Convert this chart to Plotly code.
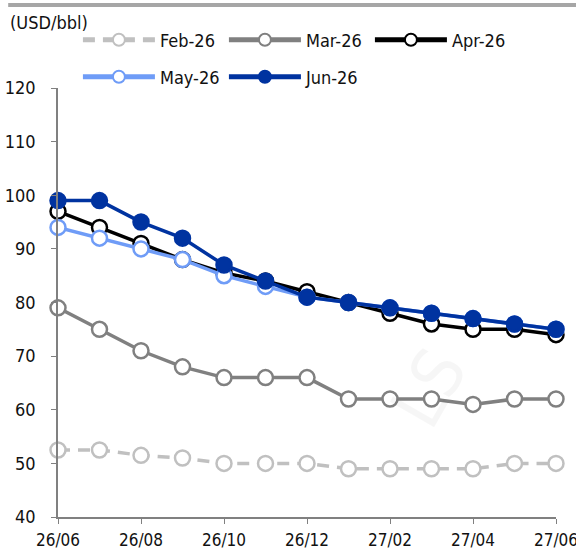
import plotly.graph_objects as go

# contract months on the x axis
months = ['26/06', '26/07', '26/08', '26/09', '26/10', '26/11', '26/12',
          '27/01', '27/02', '27/03', '27/04', '27/05', '27/06']
tick_months = ['26/06', '26/08', '26/10', '26/12', '27/02', '27/04', '27/06']

# forward curves by survey month (USD/bbl)
feb26 = [52.5, 52.5, 51.5, 51, 50, 50, 50, 49, 49, 49, 49, 50, 50]
mar26 = [79, 75, 71, 68, 66, 66, 66, 62, 62, 62, 61, 62, 62]
apr26 = [97, 94, 91, 88, 85.5, 84, 82, 80, 78, 76, 75, 75, 74]
may26 = [94, 92, 90, 88, 85, 83, 81, 80, 79, 78, 77, 76, 75]
jun26 = [99, 99, 95, 92, 87, 84, 81, 80, 79, 78, 77, 76, 75]

font_family = "DejaVu Sans Condensed, Liberation Sans Narrow, Arial Narrow, sans-serif"

fig = go.Figure()

def add_line(name, values, color, dash='solid', filled=False, legend='legend'):
    fig.add_trace(go.Scatter(
        x=months, y=values, name=name, mode='lines+markers',
        line=dict(color=color, width=3.5, dash=dash),
        marker=dict(size=15, color=color if filled else 'white',
                    line=dict(color=color, width=2.5)),
        cliponaxis=False, legend=legend,
    ))

add_line('Feb-26', feb26, '#c0c0c0', dash='12px,8px')
add_line('Mar-26', mar26, '#808080')
add_line('Apr-26', apr26, '#000000')
add_line('May-26', may26, '#6f9cf7', legend='legend2')
add_line('Jun-26', jun26, '#0033a0', filled=True, legend='legend2')

legend_style = dict(orientation='h', xref='paper', yref='paper',
                    xanchor='left', yanchor='middle', entrywidth=59,
                    itemwidth=72, itemsizing='constant',
                    font=dict(size=18), bgcolor='rgba(0,0,0,0)')

fig.update_layout(
    width=576, height=554,
    margin=dict(l=58, r=20, t=88, b=37, autoexpand=False),
    plot_bgcolor='white', paper_bgcolor='white',
    font=dict(family=font_family, size=18, color='#111111'),
    showlegend=True,
    legend=dict(legend_style, x=0.04, y=1 + 48 / 429),
    legend2=dict(legend_style, x=0.04, y=1 + 11 / 429),
    xaxis=dict(type='category', range=[0, 12], tickvals=tick_months,
               tickfont=dict(size=17),
               showline=True, linecolor='#808080', linewidth=1.5,
               ticks='outside', ticklen=5, tickcolor='#808080',
               ticklabelstandoff=2, showgrid=False, zeroline=False),
    yaxis=dict(range=[40, 120], dtick=10, showline=True, linecolor='#808080',
               linewidth=1.5, ticks='outside', ticklen=5, tickcolor='#808080',
               ticklabelstandoff=12, showgrid=False, zeroline=False),
    annotations=[
        dict(text='(USD/bbl)', x=-0.1, y=1 + 66 / 429, xref='paper',
             yref='paper', xanchor='left', yanchor='middle', showarrow=False),
        dict(text='LS', x=0.86, y=0.17, xref='paper', yref='paper',
             showarrow=False, textangle=-60,
             font=dict(size=70, color='rgba(0,0,0,0.035)')),
    ],
    shapes=[dict(type='line', xref='paper', yref='paper', x0=-0.1, x1=1.05,
                 y0=1 + 83 / 429, y1=1 + 83 / 429,
                 line=dict(color='#a6a6a6', width=4))],
)

fig.write_html("out.html", config={'displayModeBar': False},
               post_script="document.body.style.margin='0';")
